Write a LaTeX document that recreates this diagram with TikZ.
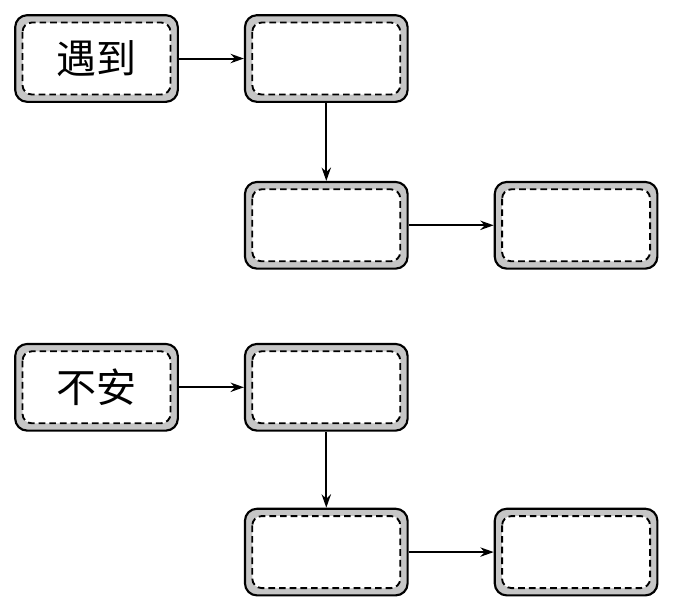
\documentclass[tikz,border=0pt]{standalone}
\usepackage{fontspec}
\newfontfamily\cjk{Noto Sans CJK SC}
\usetikzlibrary{arrows.meta, positioning}

\begin{document}
\begin{tikzpicture}[->,>={Stealth[length=10pt,width=7pt]},
 cell/.style={draw, line width=1.6pt, rounded corners=9pt, fill=gray!45,
  minimum width=122pt, minimum height=65pt, inner sep=0pt, font=\cjk\fontsize{30}{30}\selectfont,
  path picture={\draw[-,line width=1.4pt, dash pattern=on 5pt off 3pt, fill=white, rounded corners=7pt]
   ([shift={(5.5pt,-5.5pt)}]path picture bounding box.north west) rectangle
   ([shift={(-5.5pt,5.5pt)}]path picture bounding box.south east);}}]
   \useasboundingbox (-72.4pt,43.9pt) rectangle (433.9pt,-409.9pt);
   \node[cell] (a1) at (0,0) {遇到};
   \node[cell] (a2) [right=48.75pt of a1] {};
   \node[cell] (a3) [below=58.5pt of a2] {};
   \node[cell] (a4) [right=63.75pt of a3] {};
   \node[cell] (b1) [below=180pt of a1] {不安};
   \node[cell] (b2) [right=48.75pt of b1] {};
   \node[cell] (b3) [below=57pt of b2] {};
   \node[cell] (b4) [right=63.75pt of b3] {};

  \foreach \s/\t in {a1/a2, a3/a4, b1/b2, b3/b4} {
   \path[draw, line width=1.5pt] (\s.east) -- (\t.west);}
  \foreach \s/\t in {a2/a3, b2/b3} {
   \path[draw, line width=1.5pt] (\s.south) -- (\t.north);}
  \end{tikzpicture}
\end{document}
